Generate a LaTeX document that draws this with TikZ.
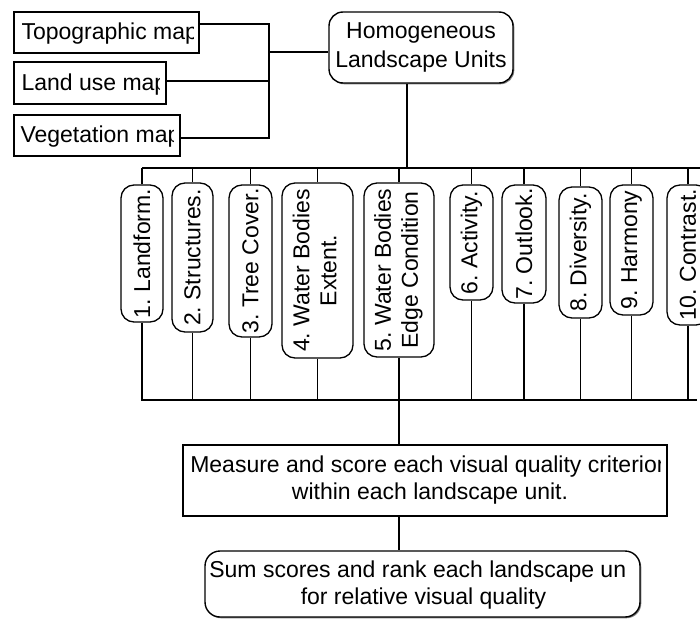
\documentclass[tikz,border=0pt]{standalone}
\usepackage{fontspec}
\setmainfont{Liberation Sans}
\usepackage{graphicx}
\usetikzlibrary{shadows}
\frenchspacing
\begin{document}
\begin{tikzpicture}[x=1pt,y=-1pt,
  every node/.style={inner sep=0pt, font=\fontsize{23}{27}\selectfont},
  conn/.style={line width=1.2pt},
  mapbox/.style={draw, line width=1.3pt, minimum height=41pt},
  critbox/.style={draw, line width=1.3pt, rounded corners=13pt},
  plainbox/.style={draw, line width=1.3pt},
  roundbox/.style={draw, line width=1.4pt, rounded corners=14pt, fill=white,
    drop shadow={shadow xshift=1.3pt, shadow yshift=-1.3pt, opacity=1}}
]
\useasboundingbox (0,0) rectangle (700,621);
\clip (0,0) rectangle (700,621);
\fill[white] (0,0) rectangle (700,621);

% source maps
\node[mapbox, minimum width=185pt] (topo) at (106.5,32.5) {};
\node[mapbox, minimum width=152pt, minimum height=42pt] (land) at (90,83) {};
\node[mapbox, minimum width=166pt] (veg) at (97,135.5) {};
\begin{scope}
  \clip (topo.north west) rectangle ([xshift=-6pt]topo.south east);
  \node[anchor=base west] (topot) at ([xshift=8pt,yshift=-7pt]topo.west) {Topographic map};
\end{scope}
\begin{scope}
  \clip (land.north west) rectangle ([xshift=-7pt]land.south east);
  \node[anchor=base west] (landt) at ([xshift=8pt,yshift=-7pt]land.west) {Land use map};
\end{scope}
\begin{scope}
  \clip (veg.north west) rectangle ([xshift=-7pt]veg.south east);
  \node[anchor=base west] (vegt) at ([xshift=7pt,yshift=-7pt]veg.west) {Vegetation map};
\end{scope}

% landscape units
\node[roundbox, minimum width=184pt, minimum height=71pt, align=center,
  font=\fontsize{23}{29}\selectfont] (homog) at (421,47.5) {Homogeneous\\Landscape Units};

% visual quality criteria
\node[critbox, minimum width=42pt, minimum height=137pt] (b1) at (142,253.5) {\rotatebox{90}{1. Landform.}};
\node[critbox, minimum width=41pt, minimum height=149pt] (b2) at (192.5,257.5) {\rotatebox{90}{2. Structures.}};
\node[critbox, minimum width=43pt, minimum height=152pt] (b3) at (250.5,261) {\rotatebox{90}{3. Tree Cover.}};
\node[critbox, minimum width=71pt, minimum height=175pt] (b4) at (317.5,270.5) {\rotatebox{90}{\begin{tabular}{@{}c@{}}4. Water Bodies\\Extent.\end{tabular}}};
\node[critbox, minimum width=70pt, minimum height=174pt] (b5) at (399,270) {\rotatebox{90}{\begin{tabular}{@{}c@{}}5. Water Bodies\\Edge Condition\end{tabular}}};
\node[critbox, minimum width=43pt, minimum height=115pt] (b6) at (471.5,242.5) {\rotatebox{90}{6. Activity.}};
\node[critbox, minimum width=44pt, minimum height=118pt] (b7) at (524,244) {\rotatebox{90}{7. Outlook.}};
\node[critbox, minimum width=43pt, minimum height=131pt] (b8) at (580.5,252.5) {\rotatebox{90}{8. Diversity.}};
\node[critbox, minimum width=43pt, minimum height=130pt] (b9) at (631.5,250) {\rotatebox{90}{9. Harmony}};
\node[critbox, minimum width=42pt, minimum height=140pt] (b10) at (688,255) {\rotatebox{90}{10. Contrast.}};

% scoring steps
\node[plainbox, minimum width=484pt, minimum height=71pt] (meas) at (425,480.5) {};
\begin{scope}
  \clip (meas.north west) rectangle ([xshift=-7pt]meas.south east);
  \node[align=center] (meast) at ([xshift=5pt]meas.center) {Measure and score each visual quality criterion\\within each landscape unit.};
\end{scope}
\node[roundbox, rounded corners=15pt, minimum width=435pt, minimum height=66pt] (sum) at (422.5,584) {};
\begin{scope}
  \clip (sum.north west) rectangle ([xshift=-14pt]sum.south east);
  \node[align=center] (sumt) at ([xshift=1pt,yshift=-1pt]sum.center) {Sum scores and rank each landscape unit\\for relative visual quality};
\end{scope}

% connectors: maps to landscape units
\coordinate (jt) at (269,24);
\coordinate (jl) at (269,81);
\coordinate (jb) at (269,138);
\coordinate (jh) at (269,52);
\draw[conn] (topo.east |- jt) -- (jt) -- (jb) -- (veg.east |- jb);
\draw[conn] (land.east |- jl) -- (jl);
\draw[conn] (jh) -- (jh -| homog.west);

% connectors: landscape units to criteria
\coordinate (tbl) at (142,168);
\coordinate (tbr) at (706,168);
\coordinate (hb) at (407,168);
\draw[conn] (tbl) -- (tbr);
\draw[conn] (hb |- homog.south) -- (hb);
\foreach \b in {b1,b2,b3,b4,b5,b6,b7,b8,b9,b10}
  \draw[conn] (\b.north) -- (\b.north |- tbl);

% connectors: criteria to scoring
\coordinate (bbl) at (141,400);
\coordinate (bbr) at (697,400);
\draw[conn] (bbl) -- (bbr);
\foreach \b in {b1,b2,b3,b4,b5,b6,b7,b8,b9,b10}
  \draw[conn] (\b.south) -- (\b.south |- bbl);
\draw[conn] (b5.south |- bbl) -- (b5.south |- meas.north);
\draw[conn] (b5.south |- meas.south) -- (b5.south |- sum.north);
\end{tikzpicture}
\end{document}
